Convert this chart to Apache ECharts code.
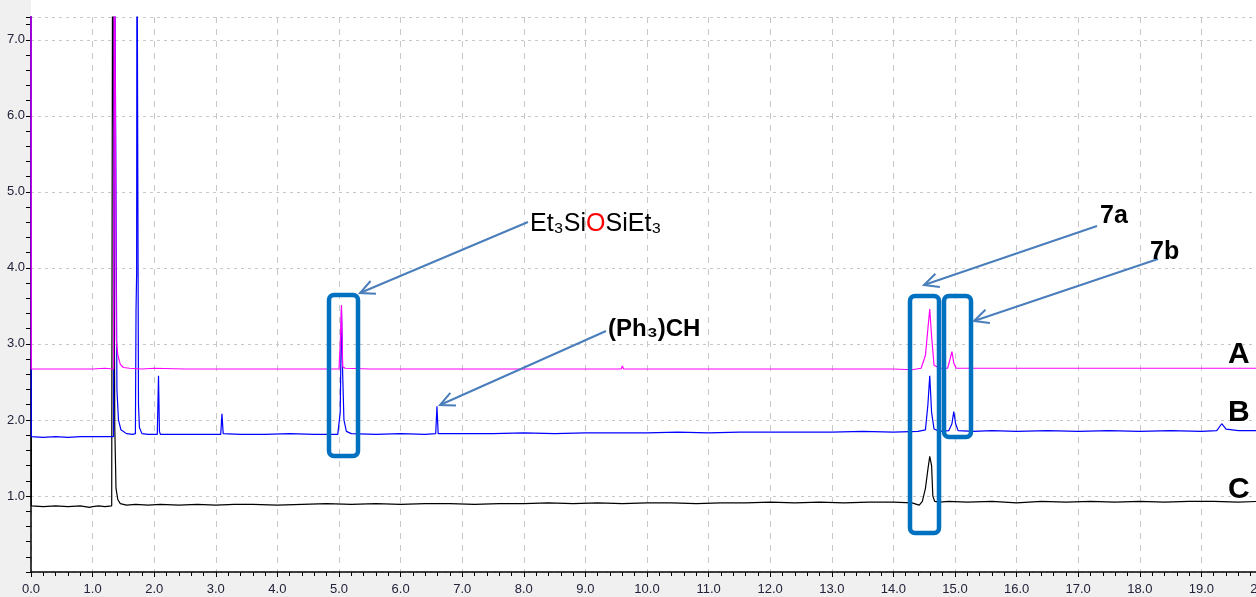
<!DOCTYPE html>
<html>
<head>
<meta charset="utf-8">
<script src="https://cdn.jsdelivr.net/npm/echarts@6/dist/echarts.min.js"></script>
<style>
html,body{margin:0;padding:0;background:#fff;}
#chart{width:1256px;height:597px;}
</style>
</head>
<body>
<div id="chart"></div>
<script>
// Retention time (min) vs detector response, three chromatograms
const traceA = [ // magenta
[0,8],[0.005,2.67],[0.3,2.67],[0.31,2.69],[0.32,2.67],[0.7,2.67],[1.0,2.67],[1.2,2.68],[1.34,2.67],[1.355,9],[1.37,9],[1.385,3.05],[1.41,2.85],[1.45,2.73],[1.5,2.69],[1.6,2.68],[1.8,2.67],[2.0,2.68],[2.5,2.67],[3.0,2.67],[3.5,2.67],[4.0,2.67],[4.5,2.67],[5.0,2.67],[5.02,3.0],[5.04,3.51],[5.06,2.7],[5.1,2.68],[5.5,2.67],[6.0,2.67],[6.5,2.67],[7.0,2.67],[7.5,2.67],[8.0,2.67],[8.5,2.67],[9.0,2.67],[9.58,2.67],[9.6,2.71],[9.62,2.67],[10.0,2.67],[10.5,2.67],[11.0,2.67],[11.5,2.67],[12.0,2.67],[12.5,2.67],[13.0,2.67],[13.5,2.67],[14.0,2.67],[14.3,2.66],[14.45,2.68],[14.52,2.85],[14.56,3.2],[14.59,3.46],[14.62,3.1],[14.66,2.72],[14.75,2.68],[14.88,2.68],[14.92,2.8],[14.95,2.9],[14.98,2.75],[15.02,2.68],[15.5,2.68],[16.0,2.68],[16.5,2.68],[17.0,2.68],[17.5,2.68],[18.0,2.68],[18.5,2.68],[19.0,2.68],[19.5,2.68],[20,2.68]
];
const traceB = [ // blue
[0,8],[0.005,1.78],[0.2,1.77],[0.4,1.78],[0.6,1.77],[0.8,1.78],[1.0,1.78],[1.2,1.78],[1.34,1.78],[1.355,9],[1.38,9],[1.395,2.4],[1.42,2.0],[1.46,1.87],[1.55,1.82],[1.65,1.81],[1.695,1.82],[1.705,3.45],[1.715,3.93],[1.72,9],[1.735,9],[1.745,2.2],[1.76,1.9],[1.8,1.82],[1.9,1.81],[2.05,1.81],[2.07,2.58],[2.085,1.85],[2.1,1.81],[2.4,1.81],[2.7,1.81],[3.08,1.81],[3.1,2.08],[3.12,1.82],[3.4,1.81],[3.8,1.81],[4.2,1.82],[4.6,1.81],[4.98,1.81],[5.02,2.1],[5.04,3.45],[5.06,2.6],[5.08,2.0],[5.12,1.85],[5.2,1.82],[5.6,1.81],[6.0,1.82],[6.4,1.81],[6.57,1.82],[6.59,2.18],[6.61,1.82],[7.0,1.82],[7.5,1.82],[8.0,1.83],[8.5,1.82],[9.0,1.83],[9.5,1.83],[10.0,1.83],[10.5,1.84],[11.0,1.83],[11.5,1.84],[12.0,1.84],[12.5,1.84],[13.0,1.84],[13.5,1.85],[14.0,1.84],[14.4,1.85],[14.52,1.87],[14.56,2.2],[14.59,2.58],[14.62,2.1],[14.66,1.88],[14.75,1.85],[14.9,1.86],[14.95,1.95],[14.98,2.11],[15.01,1.95],[15.05,1.86],[15.3,1.85],[15.6,1.86],[16.0,1.85],[16.5,1.86],[17.0,1.85],[17.5,1.86],[18.0,1.85],[18.5,1.86],[19.0,1.85],[19.25,1.86],[19.33,1.95],[19.4,1.88],[19.6,1.86],[20,1.86]
];
const traceC = [ // black
[0,8],[0.005,0.87],[0.2,0.86],[0.4,0.87],[0.6,0.86],[0.8,0.87],[0.95,0.85],[1.0,0.86],[1.1,0.87],[1.2,0.86],[1.31,0.87],[1.325,9],[1.345,9],[1.36,1.9],[1.38,1.1],[1.41,0.95],[1.45,0.90],[1.55,0.88],[1.7,0.89],[1.9,0.88],[2.1,0.89],[2.4,0.88],[2.7,0.89],[3.0,0.88],[3.3,0.89],[3.6,0.89],[4.0,0.88],[4.4,0.89],[4.8,0.90],[5.2,0.89],[5.6,0.90],[6.0,0.89],[6.4,0.90],[6.8,0.90],[7.2,0.89],[7.6,0.90],[8.0,0.90],[8.4,0.91],[8.8,0.90],[9.2,0.91],[9.6,0.90],[10.0,0.91],[10.4,0.91],[10.8,0.90],[11.2,0.91],[11.6,0.91],[12.0,0.92],[12.4,0.91],[12.8,0.92],[13.2,0.91],[13.6,0.92],[14.0,0.92],[14.3,0.91],[14.42,0.88],[14.47,0.93],[14.52,1.1],[14.56,1.35],[14.59,1.52],[14.62,1.4],[14.64,1.0],[14.67,0.93],[14.75,0.92],[14.9,0.93],[15.2,0.92],[15.6,0.93],[16.0,0.91],[16.4,0.93],[16.8,0.92],[17.2,0.93],[17.6,0.92],[18.0,0.93],[18.4,0.92],[18.8,0.93],[19.2,0.93],[19.6,0.92],[20,0.93]
];
const seriesNames = ['C','B','A'];
const xTicks = {min:0, max:20, interval:1};
const yTicks = {min:0, max:7.3, interval:1};

const chart = echarts.init(document.getElementById('chart'));
const axisFont = {fontFamily:'"Liberation Sans Narrow","Liberation Sans",Arial,sans-serif', fontSize:13, color:'#22223a'};

function arrow(x1,y1,x2,y2){ // tail (x1,y1) -> tip (x2,y2)
  const a = Math.atan2(y1-y2, x1-x2), L = 16, s = 0.45;
  const p1 = [x2 + L*Math.cos(a+s), y2 + L*Math.sin(a+s)];
  const p2 = [x2 + L*Math.cos(a-s), y2 + L*Math.sin(a-s)];
  const st = {stroke:'#4a7ebb', lineWidth:2, fill:null};
  return [
    {type:'line', z:100, shape:{x1:x1,y1:y1,x2:x2,y2:y2}, style:st},
    {type:'polyline', z:100, shape:{points:[p1,[x2,y2],p2]}, style:st}
  ];
}
function box(x,y,w,h){
  return {type:'rect', z:100, shape:{x:x,y:y,width:w,height:h,r:5}, style:{stroke:'#0070c0', lineWidth:4.5, fill:null}};
}
const fNormal = '"Liberation Sans","DejaVu Sans",sans-serif';
const graphics = [
  {type:'rect', z:-10, silent:true, shape:{x:0,y:0,width:31,height:597}, style:{fill:'#f0f0f0'}},
  {type:'rect', z:-10, silent:true, shape:{x:0,y:573,width:1256,height:24}, style:{fill:'#f0f0f0'}},
  box(329,295,29,161),
  box(910,296,29,237),
  box(944,296,27,141),
  ...arrow(528,222,360,293),
  ...arrow(606,331,440,405),
  ...arrow(1097,226,924,285),
  ...arrow(1158,259,974,321),
  {type:'text', z:101, x:530, y:224, style:{text:'{n|Et₃Si}{r|O}{n|SiEt₃}', verticalAlign:'middle', rich:{
     n:{fill:'#000', fontSize:25, fontFamily:fNormal},
     r:{fill:'#ff0000', fontSize:25, fontFamily:fNormal}}}},
  {type:'text', z:101, x:608, y:329, style:{text:'(Ph₃)CH', fill:'#000', fontSize:24, fontWeight:'bold', fontFamily:fNormal, verticalAlign:'middle'}},
  {type:'text', z:101, x:1100, y:216, style:{text:'7a', fill:'#000', fontSize:25, fontWeight:'bold', fontFamily:fNormal, verticalAlign:'middle'}},
  {type:'text', z:101, x:1150, y:252, style:{text:'7b', fill:'#000', fontSize:25, fontWeight:'bold', fontFamily:fNormal, verticalAlign:'middle'}},
  {type:'text', z:101, x:1228, y:355, style:{text:'A', fill:'#000', fontSize:30, fontWeight:'bold', fontFamily:fNormal, verticalAlign:'middle'}},
  {type:'text', z:101, x:1228, y:413, style:{text:'B', fill:'#000', fontSize:30, fontWeight:'bold', fontFamily:fNormal, verticalAlign:'middle'}},
  {type:'text', z:101, x:1228, y:490, style:{text:'C', fill:'#000', fontSize:30, fontWeight:'bold', fontFamily:fNormal, verticalAlign:'middle'}}
];

const option = {
  animation:false,
  backgroundColor:'#ffffff',
  grid:{left:31, right:-7, top:17, bottom:25, containLabel:false, outerBoundsMode:'none', show:true, backgroundColor:'#ffffff', borderWidth:0},
  xAxis:{type:'value', min:xTicks.min, max:xTicks.max, interval:xTicks.interval,
    axisLine:{show:true, onZero:false, lineStyle:{color:'#000', width:1.5}},
    axisTick:{show:true, inside:false, length:5, lineStyle:{color:'#000'}},
    minorTick:{show:true, splitNumber:5, length:4, lineStyle:{color:'#000'}},
    splitLine:{show:true, lineStyle:{color:'#c8c8c8', type:[6,6], width:1}},
    axisLabel:Object.assign({margin:11, formatter:v=>v.toFixed(1)}, axisFont)},
  yAxis:{type:'value', min:yTicks.min, max:yTicks.max, interval:yTicks.interval,
    axisLine:{show:true, lineStyle:{color:'#000', width:1.5}},
    axisTick:{show:true, inside:false, length:5, lineStyle:{color:'#000'}},
    minorTick:{show:true, splitNumber:5, length:5, lineStyle:{color:'#000'}},
    splitLine:{show:true, lineStyle:{color:'#c8c8c8', type:[3,4], width:1}},
    axisLabel:Object.assign({margin:6, showMinLabel:false, showMaxLabel:false, formatter:v=>v.toFixed(1)}, axisFont)},
  series:[
    {name:seriesNames[0], type:'line', data:traceC, showSymbol:false, symbol:'none', clip:true, lineStyle:{color:'#000000', width:1.2}, z:3},
    {name:seriesNames[1], type:'line', data:traceB, showSymbol:false, symbol:'none', clip:true, lineStyle:{color:'#0000ff', width:1.2}, z:4},
    {name:seriesNames[2], type:'line', data:traceA, showSymbol:false, symbol:'none', clip:true, lineStyle:{color:'#ff00ff', width:1.2}, z:5}
  ],
  graphic:graphics
};
chart.setOption(option);
</script>
</body>
</html>
